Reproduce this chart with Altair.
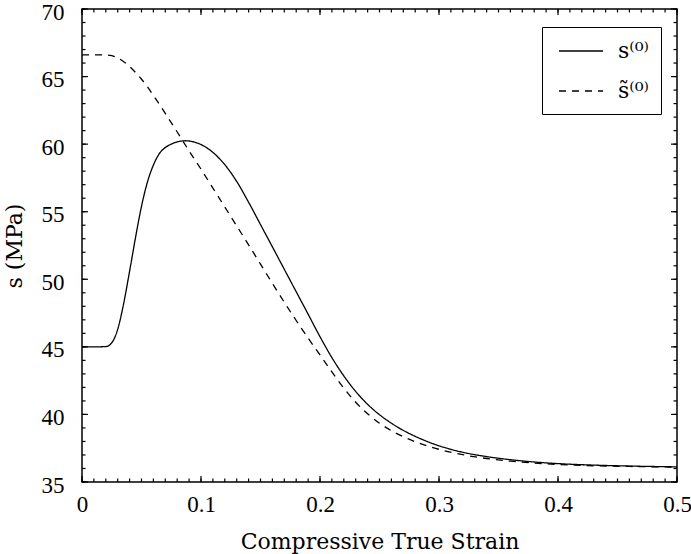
import altair as alt
import pandas as pd

# ---- data ----
solid_x = [0.000, 0.010, 0.020, 0.025, 0.030, 0.035, 0.040, 0.045, 0.050, 0.055,
           0.060, 0.065, 0.070, 0.075, 0.080, 0.087, 0.095, 0.100, 0.110, 0.120,
           0.130, 0.140, 0.150, 0.160, 0.170, 0.180, 0.190, 0.200, 0.210, 0.220,
           0.230, 0.240, 0.250, 0.260, 0.270, 0.280, 0.290, 0.300, 0.310, 0.320,
           0.340, 0.360, 0.380, 0.400, 0.430, 0.460, 0.500]
solid_y = [45.0, 45.0, 45.02, 45.3, 46.3, 48.2, 50.6, 53.1, 55.4, 57.2,
           58.45, 59.3, 59.75, 60.0, 60.17, 60.25, 60.14, 59.97, 59.39, 58.48,
           57.24, 55.7, 54.05, 52.4, 50.74, 49.08, 47.42, 45.75, 44.2, 42.85,
           41.7, 40.75, 39.98, 39.35, 38.82, 38.38, 38.0, 37.68, 37.42, 37.2,
           36.88, 36.65, 36.48, 36.36, 36.25, 36.18, 36.12]

dash_x = [0.000, 0.020, 0.025, 0.030, 0.035, 0.040, 0.045, 0.050, 0.055, 0.060,
          0.065, 0.070, 0.080, 0.090, 0.100, 0.110, 0.120, 0.130, 0.140, 0.150,
          0.160, 0.170, 0.180, 0.190, 0.200, 0.210, 0.220, 0.230, 0.240, 0.250,
          0.260, 0.270, 0.280, 0.290, 0.300, 0.320, 0.340, 0.360, 0.380, 0.400,
          0.430, 0.460, 0.500]
dash_y = [66.6, 66.6, 66.55, 66.38, 66.1, 65.75, 65.3, 64.8, 64.25, 63.6,
          62.95, 62.27, 60.9, 59.5, 58.15, 56.75, 55.35, 53.95, 52.55, 51.12,
          49.7, 48.3, 46.95, 45.65, 44.4, 43.15, 41.95, 40.9, 40.05, 39.35,
          38.8, 38.35, 37.98, 37.68, 37.42, 37.02, 36.74, 36.54, 36.4, 36.3,
          36.2, 36.15, 36.1]

series_names = ["s\u207d\u2070\u207e", "s\u0303\u207d\u2070\u207e"]

x_major = [0, 0.1, 0.2, 0.3, 0.4, 0.5]
y_major = [35, 40, 45, 50, 55, 60, 65, 70]
x_minor = [round(i * 0.01, 2) for i in range(51)]
y_minor = list(range(35, 71))

df = pd.concat([
    pd.DataFrame({"strain": solid_x, "stress": solid_y, "series": series_names[0]}),
    pd.DataFrame({"strain": dash_x, "stress": dash_y, "series": series_names[1]}),
], ignore_index=True)

TFONT = "DejaVu Serif"
LFONT = "Liberation Serif"
W, H = 595, 473
MAJ, MIN = 6, 3.5

xs = alt.Scale(domain=[0, 0.5], nice=False, zero=False)
ys = alt.Scale(domain=[35, 70], nice=False, zero=False)

main = alt.Chart(df).mark_line(color="black", strokeWidth=1.3, interpolate="monotone").encode(
    x=alt.X("strain:Q", scale=xs,
            axis=alt.Axis(orient="bottom", values=x_major, ticks=False, tickSize=0,
                          domain=False, grid=False, labelFlush=False, labelPadding=11,
                          labelExpr="datum.value == 0 ? '0' : format(datum.value, '.1f')",
                          title="Compressive True Strain", titlePadding=15)),
    y=alt.Y("stress:Q", scale=ys,
            axis=alt.Axis(orient="left", values=y_major, ticks=False, tickSize=0,
                          domain=False, grid=False, labelFlush=False, labelPadding=18,
                          labelOffset=3, title="s (MPa)", titlePadding=15)),
    strokeDash=alt.StrokeDash(
        "series:N",
        scale=alt.Scale(domain=series_names, range=[[1, 0], [7, 6]]),
        legend=alt.Legend(
            orient="none", legendX=460, legendY=18, title=None,
            symbolType="M-1,0H3", symbolSize=484, symbolStrokeWidth=1.3,
            symbolStrokeColor="black", symbolOffset=4,
            labelFont=TFONT, labelFontSize=22, labelColor="black",
            labelOffset=36, padding=12, rowPadding=17,
            strokeColor="black", fillColor="white", cornerRadius=0,
        ),
    ),
)


def xticks(values, y0, y1):
    return alt.Chart(pd.DataFrame({"strain": values})).mark_rule(
        color="black", strokeWidth=1.2).encode(
        x=alt.X("strain:Q", scale=xs, axis=None), y=alt.value(y0), y2=alt.value(y1))


def yticks(values, x0, x1):
    return alt.Chart(pd.DataFrame({"stress": values})).mark_rule(
        color="black", strokeWidth=1.2).encode(
        y=alt.Y("stress:Q", scale=ys, axis=None), x=alt.value(x0), x2=alt.value(x1))


ticks = [
    xticks(x_minor, H - MIN, H), xticks(x_major, H - MAJ, H),
    xticks(x_minor, 0, MIN), xticks(x_major, 0, MAJ),
    yticks(y_minor, 0, MIN), yticks(y_major, 0, MAJ),
    yticks(y_minor, W - MIN, W), yticks(y_major, W - MAJ, W),
]

chart = alt.layer(main, *ticks).resolve_axis(
    x="independent", y="independent"
).properties(
    width=W, height=H,
    autosize=alt.AutoSizeParams(type="none"),
    padding={"left": 82, "top": 9, "right": 14, "bottom": 72},
    background="white",
).configure_view(
    stroke="black", strokeWidth=1.5
).configure_axis(
    labelFont=LFONT, titleFont=TFONT, labelFontSize=23, titleFontSize=22,
    labelColor="black", titleColor="black",
    titleFontWeight="normal",
)

chart.save("out.html", embed_options={"renderer": "svg", "actions": False})
